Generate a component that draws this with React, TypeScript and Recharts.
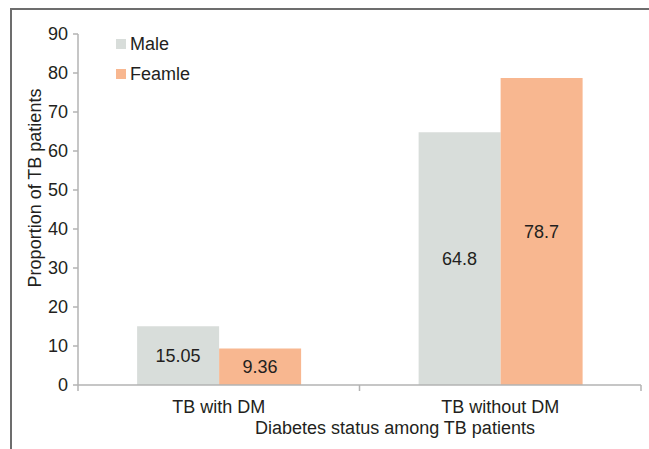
import { BarChart, Bar, XAxis, YAxis, Legend, LabelList } from "recharts"

const categories = ["TB with DM", "TB without DM"]
const seriesNames = ["Male", "Feamle"]
const maleValues = [15.05, 64.8]
const femaleValues = [9.36, 78.7]
const yTicks = [0, 10, 20, 30, 40, 50, 60, 70, 80, 90]

const data = categories.map((c, i) => ({ status: c, Male: maleValues[i], Feamle: femaleValues[i] }))

const font = "'Liberation Sans', Arial, sans-serif"
const axisColor = "#b3b3b3"
const textColor = "#231f20"

function CatTick(props: any) {
  const { x, y, payload, index } = props
  const half = payload.offset || 140.75
  return (
    <g>
      <line x1={x - half} y1={y - 8} x2={x - half} y2={y - 2} stroke={axisColor} strokeWidth={1.5} />
      {index === categories.length - 1 && (
        <line x1={x + half} y1={y - 8} x2={x + half} y2={y - 2} stroke={axisColor} strokeWidth={1.5} />
      )}
      <text x={x} y={y + 20} textAnchor="middle" fill={textColor} fontSize={18} fontFamily={font}>
        {payload.value}
      </text>
    </g>
  )
}

function LegendBox(props: any) {
  const items = [...(props.payload || [])].sort(
    (a: any, b: any) => seriesNames.indexOf(a.value) - seriesNames.indexOf(b.value)
  )
  return (
    <div style={{ fontFamily: font, fontSize: 18, color: textColor }}>
      {items.map((p: any) => (
        <div key={p.value} style={{ display: "flex", alignItems: "center", height: 30 }}>
          <span style={{ width: 10, height: 10, background: p.color, marginRight: 4, display: "inline-block" }} />
          {p.value}
        </div>
      ))}
    </div>
  )
}

export default function App() {
  return (
    <div style={{ position: "absolute", left: 0, top: 0, width: 649, height: 449, background: "#fff" }}>
      <div
        style={{
          position: "absolute",
          left: 10,
          top: 8,
          width: 639,
          height: 441,
          borderTop: "2px solid #6d6d6d",
          borderLeft: "2px solid #6d6d6d",
          boxSizing: "border-box",
        }}
      />
      <div style={{ position: "absolute", left: 0, top: 0 }}>
        <BarChart
          width={649}
          height={449}
          data={data}
          margin={{ top: 34, right: 8, bottom: 34, left: 18 }}
          barCategoryGap="21%"
          barGap={0}
        >
          <XAxis
            dataKey="status"
            height={30}
            stroke={axisColor}
            strokeWidth={1.5}
            tickLine={false}
            tick={<CatTick />}
            label={{
              content: () => (
                <text x={395} y={434} textAnchor="middle" fill={textColor} fontSize={18} fontFamily={font}>
                  Diabetes status among TB patients
                </text>
              ),
            }}
          />
          <YAxis
            width={60}
            domain={[0, 90]}
            ticks={yTicks}
            stroke={axisColor}
            strokeWidth={1.5}
            tickSize={5}
            tickMargin={5}
            tick={{ fill: textColor, fontSize: 18, fontFamily: font }}
            label={{
              content: () => (
                <text
                  x={41}
                  y={188}
                  transform="rotate(-90, 41, 188)"
                  textAnchor="middle"
                  fill={textColor}
                  fontSize={18}
                  fontFamily={font}
                >
                  Proportion of TB patients
                </text>
              ),
            }}
          />
          <Legend
            layout="vertical"
            verticalAlign="middle"
            align="center"
            content={<LegendBox />}
            wrapperStyle={{ left: 116, top: 29, width: 120 }}
          />
          <Bar dataKey="Male" fill="#d8ddda" isAnimationActive={false}>
            <LabelList dataKey="Male" position="center" fill={textColor} fontSize={18} fontFamily={font} />
          </Bar>
          <Bar dataKey="Feamle" fill="#f8b790" isAnimationActive={false}>
            <LabelList dataKey="Feamle" position="center" fill={textColor} fontSize={18} fontFamily={font} />
          </Bar>
        </BarChart>
      </div>
    </div>
  )
}
